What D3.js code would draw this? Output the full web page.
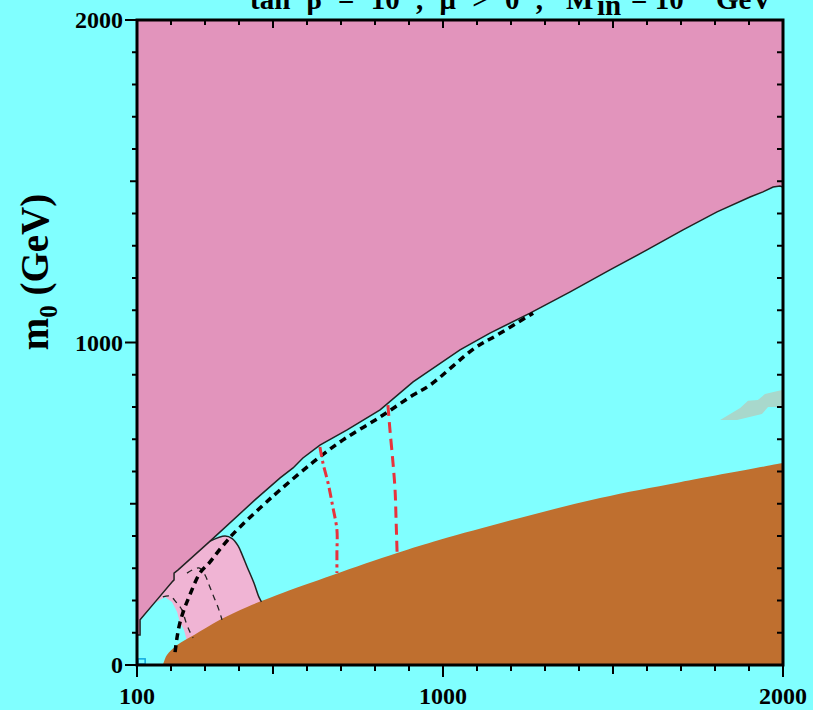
<!DOCTYPE html>
<html><head><meta charset="utf-8">
<script src="https://cdn.jsdelivr.net/npm/d3@7"></script>
<style>html,body{margin:0;padding:0;background:#80FFFF;overflow:hidden}</style>
</head><body><svg id="c" width="813" height="710"></svg>
<script>
// ---- data (m1/2, m0) in GeV ----
const xTickLabels = [100, 1000, 2000];
const yTickLabels = [0, 1000, 2000];
const pinkBoundary = [[100,93],[109,93],[109,140],[153,195],[203,257],[209,264],[209,285],[221,295],[315,384],[447,512],[521,580],[559,611],[588,642],[638,682],[718,729],[815,791],[912,878],[1050,977],[1138,1029],[1256,1091],[1374,1157],[1491,1225],[1600,1287],[1706,1349],[1806,1405],[1903,1451],[1941,1467],[1971,1482],[1991,1485],[2000,1482]];
const lightPinkRegion = [[153,192],[182,211],[203,195],[218,164],[226,133],[238,109],[250,62],[260,20],[480,20],[466,196],[458,212],[444,254],[424,304],[410,340],[397,370],[380,392],[359,400],[315,384],[221,295],[209,285],[209,264],[203,257]];
const lightPinkEdge = [[315,384],[359,400],[380,392],[397,370],[410,340],[424,304],[444,254],[458,212],[466,196]];
const brownRegion = [[176,0],[179,9],[188,31],[218,62],[268,93],[344,140],[424,180],[512,217],[676,279],[865,347],[991,388],[1226,456],[1462,518],[1697,567],[2000,626]];
const thickDashed = [[212,40],[218,87],[226,130],[238,171],[253,211],[285,285],[312,316],[335,347],[359,378],[385,409],[471,496],[521,543],[618,629],[706,698],[815,769],[912,837],[962,868],[1094,983],[1159,1023],[1265,1091]];
const thinDashed1 = [[176,211],[197,214],[215,195],[232,171],[244,133],[256,102],[265,84]];
const thinDashed2 = [[247,285],[282,301],[300,279],[312,248],[326,211],[341,171],[350,140]];
const redDashDot = [[638,676],[647,626],[662,564],[676,490],[688,419],[688,347],[688,285]];
const redDashed = [[838,806],[844,729],[853,626],[859,543],[862,450],[865,347]];
const greenPatch = [[1815,760],[1874,797],[1897,819],[1926,822],[1947,840],[1997,853],[2000,853],[2000,800],[1956,800],[1938,778],[1865,760]];
const blueSquare = [[103,3],[124,19]];

const svg = d3.select('#c');
const W=813,H=710;
const L=137,R=783,T=20,B=665;
const x = d3.scaleLinear([100,2000],[L,R]);
const y = d3.scaleLinear([0,2000],[B,T]);
const font = "'Liberation Serif','Times New Roman',serif";

svg.append('rect').attr('width',W).attr('height',H).attr('fill','#80FFFF');
svg.append('clipPath').attr('id','clip').append('rect').attr('x',L).attr('y',T).attr('width',R-L).attr('height',B-T);
const g = svg.append('g').attr('clip-path','url(#clip)');
const line = d3.line().x(d=>x(d[0])).y(d=>y(d[1]));
const smooth = d3.line().x(d=>x(d[0])).y(d=>y(d[1])).curve(d3.curveCatmullRom.alpha(0.5));

// regions
const pinkPoly = [[100,2000]].concat(pinkBoundary).concat([[2000,2000]]);
g.append('path').attr('d',line(pinkPoly)+'Z').attr('fill','#E294BC');
g.append('path').attr('d',line(lightPinkRegion)+'Z').attr('fill','#F0B4D4');
g.append('path').attr('d',line(greenPatch)+'Z').attr('fill','#A8D8CC');
g.append('path').attr('d',smooth(brownRegion)+'L'+x(2000)+','+y(0)+'Z').attr('fill','#BF6F2F');
g.append('rect').attr('x',x(blueSquare[0][0])).attr('y',y(blueSquare[1][1]))
  .attr('width',x(blueSquare[1][0])-x(blueSquare[0][0])).attr('height',y(blueSquare[0][1])-y(blueSquare[1][1]))
  .attr('fill','none').attr('stroke','#10A8E0').attr('stroke-width',1.5);

// lines
g.append('path').attr('d',line(pinkBoundary)).attr('fill','none').attr('stroke','#222').attr('stroke-width',1.5);
g.append('path').attr('d',smooth(lightPinkEdge)).attr('fill','none').attr('stroke','#222').attr('stroke-width',1.5);
g.append('path').attr('d',smooth(thinDashed1)).attr('fill','none').attr('stroke','#222').attr('stroke-width',1.3).attr('stroke-dasharray','6,5');
g.append('path').attr('d',smooth(thinDashed2)).attr('fill','none').attr('stroke','#222').attr('stroke-width',1.3).attr('stroke-dasharray','6,5');
g.append('path').attr('d',smooth(thickDashed)).attr('fill','none').attr('stroke','#000').attr('stroke-width',3.5).attr('stroke-dasharray','7,5');
g.append('path').attr('d',smooth(redDashDot)).attr('fill','none').attr('stroke','#E8323C').attr('stroke-width',3).attr('stroke-dasharray','10,4,3,4');
g.append('path').attr('d',smooth(redDashed)).attr('fill','none').attr('stroke','#E8323C').attr('stroke-width',3).attr('stroke-dasharray','11,6');

// ticks
const ticks = d3.range(100,2001,100);
const yt = d3.range(0,2001,100);
const tk = svg.append('g').attr('stroke','#000').attr('stroke-width',2);
ticks.forEach(v=>{
  const major = v%500===0;
  const lab = xTickLabels.includes(v);
  tk.append('line').attr('x1',x(v)).attr('x2',x(v)).attr('y1',B).attr('y2',B+(lab?12:(major?9:6)));
  tk.append('line').attr('x1',x(v)).attr('x2',x(v)).attr('y1',T).attr('y2',T+(major?8:5));
});
yt.forEach(v=>{
  const major = v%500===0;
  const lab = yTickLabels.includes(v);
  tk.append('line').attr('y1',y(v)).attr('y2',y(v)).attr('x1',L).attr('x2',L-(lab?12:(major?7:5)));
  tk.append('line').attr('y1',y(v)).attr('y2',y(v)).attr('x1',R).attr('x2',R-6);
});
// frame
svg.append('rect').attr('x',L).attr('y',T).attr('width',R-L).attr('height',B-T)
  .attr('fill','none').attr('stroke','#000').attr('stroke-width',3);

// tick labels
xTickLabels.forEach(v=>{
  svg.append('text').attr('x',x(v)).attr('y',704).attr('text-anchor','middle')
    .attr('font-family',font).attr('font-weight','bold').attr('font-size',24).text(v);
});
yTickLabels.forEach(v=>{
  svg.append('text').attr('x',123).attr('y',y(v)+8).attr('text-anchor','end')
    .attr('font-family',font).attr('font-weight','bold').attr('font-size',24).text(v);
});

// y label
const yl = svg.append('text').attr('transform','translate(48,272) rotate(-90)')
  .attr('text-anchor','middle').attr('font-family',font).attr('font-weight','bold').attr('font-size',39);
yl.append('tspan').text('m');
yl.append('tspan').attr('font-size',25).attr('dy',9).text('0');
yl.append('tspan').attr('dy',-9).text('\u00a0(GeV)');

// title (cut at top as in the reference)
const tt = svg.append('text').attr('y',9)
  .attr('font-family',font).attr('font-weight','bold').attr('font-size',29);
tt.append('tspan').attr('x',250).attr('word-spacing',9).text('tan \u03b2 = 10 , \u03bc > 0 ,');
tt.append('tspan').attr('x',566).text('M');
tt.append('tspan').attr('x',597).attr('dy',6).text('in');
tt.append('tspan').attr('x',631).attr('dy',-6).text('= 10');
tt.append('tspan').attr('x',690).attr('dy',-12).attr('font-size',19).text('16');
tt.append('tspan').attr('x',716).attr('dy',12).text('GeV');
</script></body></html>
